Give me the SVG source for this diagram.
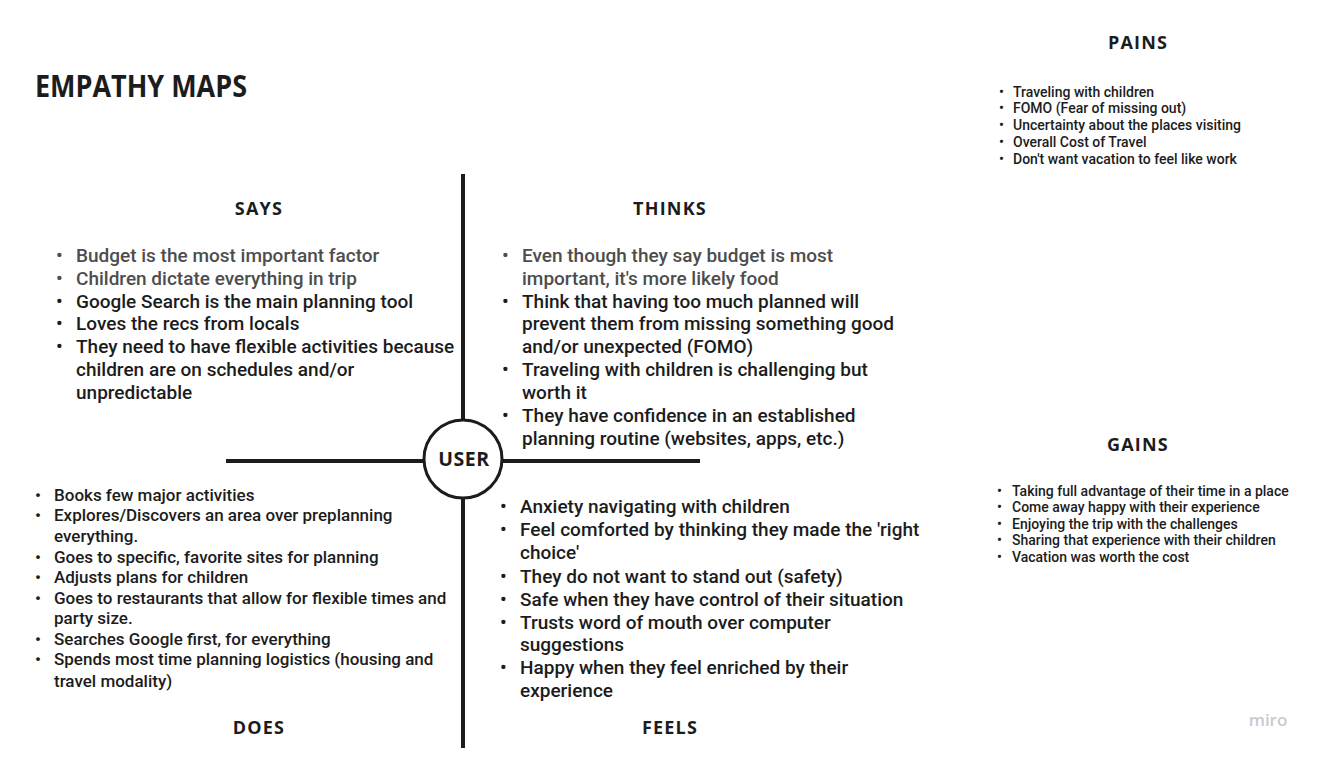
<svg xmlns="http://www.w3.org/2000/svg" width="1319" height="757" viewBox="0 0 1319 757">
<style>
.h{font-family:"Open Sans","DejaVu Sans",sans-serif;font-weight:700;fill:#1c1c1c;text-anchor:middle;font-size:18px;letter-spacing:1.2px}
.b{font-family:Roboto,"Liberation Sans",sans-serif;font-weight:500;fill:#1c1c1c}
.g{fill:#4d4d4d}
.l{font-size:19px}
.m{font-size:17px}
.s{font-size:14px}
.ln{stroke:#1c1c1c;stroke-width:4;fill:none}
</style>
<rect width="1319" height="757" fill="#ffffff"/>
<text x="35" y="97" font-family="Open Sans, DejaVu Sans, sans-serif" font-weight="700" font-size="31" fill="#1c1c1c" textLength="212" lengthAdjust="spacingAndGlyphs">EMPATHY MAPS</text>
<g id="connectors">
<line class="ln" x1="463" y1="174" x2="463" y2="420"/>
<line class="ln" x1="463" y1="498" x2="463" y2="748"/>
<line class="ln" x1="226" y1="461" x2="424" y2="461"/>
<line class="ln" x1="502" y1="461" x2="700" y2="461"/>
</g>
<g id="user">
<circle cx="463" cy="459" r="39" fill="#ffffff" stroke="#1c1c1c" stroke-width="3"/>
<text class="h" x="464" y="466" style="font-size:19.5px;letter-spacing:0.5px">USER</text>
</g>
<g id="says">
<text class="h" x="259" y="215">SAYS</text>
<text class="b l">
<tspan class="g" x="56" y="262">•</tspan><tspan class="g" x="76" y="262">Budget is the most important factor</tspan>
<tspan class="g" x="56" y="285">•</tspan><tspan class="g" x="76" y="285">Children dictate everything in trip</tspan>
<tspan x="56" y="308">•</tspan><tspan x="76" y="308">Google Search is the main planning tool</tspan>
<tspan x="56" y="330">•</tspan><tspan x="76" y="330">Loves the recs from locals</tspan>
<tspan x="56" y="353">•</tspan><tspan x="76" y="353">They need to have flexible activities because</tspan>
<tspan x="76" y="376">children are on schedules and/or</tspan>
<tspan x="76" y="399">unpredictable</tspan>
</text>
</g>
<g id="thinks">
<text class="h" x="670" y="215">THINKS</text>
<text class="b l">
<tspan class="g" x="502" y="262">•</tspan><tspan class="g" x="522" y="262">Even though they say budget is most</tspan>
<tspan class="g" x="522" y="285">important, it's more likely food</tspan>
<tspan x="502" y="308">•</tspan><tspan x="522" y="308">Think that having too much planned will</tspan>
<tspan x="522" y="330">prevent them from missing something good</tspan>
<tspan x="522" y="353">and/or unexpected (FOMO)</tspan>
<tspan x="502" y="376">•</tspan><tspan x="522" y="376">Traveling with children is challenging but</tspan>
<tspan x="522" y="399">worth it</tspan>
<tspan x="502" y="422">•</tspan><tspan x="522" y="422">They have confidence in an established</tspan>
<tspan x="522" y="445">planning routine (websites, apps, etc.)</tspan>
</text>
</g>
<g id="does">
<text class="b m">
<tspan x="35" y="501">•</tspan><tspan x="54" y="501">Books few major activities</tspan>
<tspan x="35" y="521">•</tspan><tspan x="54" y="521">Explores/Discovers an area over preplanning</tspan>
<tspan x="54" y="542">everything.</tspan>
<tspan x="35" y="563">•</tspan><tspan x="54" y="563">Goes to specific, favorite sites for planning</tspan>
<tspan x="35" y="583">•</tspan><tspan x="54" y="583">Adjusts plans for children</tspan>
<tspan x="35" y="604">•</tspan><tspan x="54" y="604">Goes to restaurants that allow for flexible times and</tspan>
<tspan x="54" y="624">party size.</tspan>
<tspan x="35" y="645">•</tspan><tspan x="54" y="645">Searches Google first, for everything</tspan>
<tspan x="35" y="665">•</tspan><tspan x="54" y="665">Spends most time planning logistics (housing and</tspan>
<tspan x="54" y="687">travel modality)</tspan>
</text>
<text class="h" x="259" y="734">DOES</text>
</g>
<g id="feels">
<text class="b l">
<tspan x="500" y="513">•</tspan><tspan x="520" y="513">Anxiety navigating with children</tspan>
<tspan x="500" y="536">•</tspan><tspan x="520" y="536">Feel comforted by thinking they made the 'right</tspan>
<tspan x="520" y="559">choice'</tspan>
<tspan x="500" y="583">•</tspan><tspan x="520" y="583">They do not want to stand out (safety)</tspan>
<tspan x="500" y="606">•</tspan><tspan x="520" y="606">Safe when they have control of their situation</tspan>
<tspan x="500" y="629">•</tspan><tspan x="520" y="629">Trusts word of mouth over computer</tspan>
<tspan x="520" y="651">suggestions</tspan>
<tspan x="500" y="674">•</tspan><tspan x="520" y="674">Happy when they feel enriched by their</tspan>
<tspan x="520" y="697">experience</tspan>
</text>
<text class="h" x="670" y="734">FEELS</text>
</g>
<g id="pains">
<text class="h" x="1138" y="49">PAINS</text>
<text class="b s">
<tspan x="999" y="97">•</tspan><tspan x="1013" y="97">Traveling with children</tspan>
<tspan x="999" y="113">•</tspan><tspan x="1013" y="113">FOMO (Fear of missing out)</tspan>
<tspan x="999" y="130">•</tspan><tspan x="1013" y="130">Uncertainty about the places visiting</tspan>
<tspan x="999" y="147">•</tspan><tspan x="1013" y="147">Overall Cost of Travel</tspan>
<tspan x="999" y="164">•</tspan><tspan x="1013" y="164">Don't want vacation to feel like work</tspan>
</text>
</g>
<g id="gains">
<text class="h" x="1138" y="451">GAINS</text>
<text class="b s">
<tspan x="997" y="496">•</tspan><tspan x="1012" y="496">Taking full advantage of their time in a place</tspan>
<tspan x="997" y="512">•</tspan><tspan x="1012" y="512">Come away happy with their experience</tspan>
<tspan x="997" y="529">•</tspan><tspan x="1012" y="529">Enjoying the trip with the challenges</tspan>
<tspan x="997" y="545">•</tspan><tspan x="1012" y="545">Sharing that experience with their children</tspan>
<tspan x="997" y="562">•</tspan><tspan x="1012" y="562">Vacation was worth the cost</tspan>
</text>
</g>
<text x="1268" y="726" font-family="Open Sans, DejaVu Sans, sans-serif" font-weight="600" font-size="17" fill="#c9c9d1" text-anchor="middle">miro</text>
</svg>
